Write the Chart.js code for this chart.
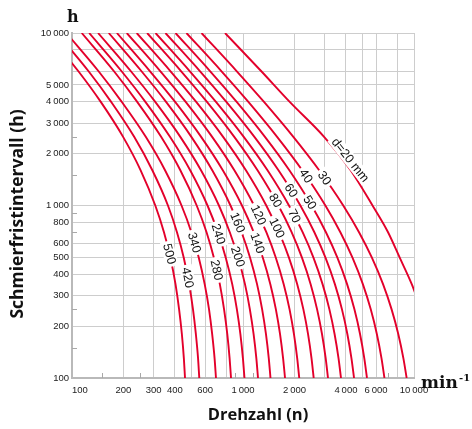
<!DOCTYPE html>
<html>
<head>
<meta charset="utf-8">
<script src="https://cdn.jsdelivr.net/npm/chart.js@4.4.1/dist/chart.umd.min.js"></script>
<style>
  html, body { margin: 0; padding: 0; background: #fff; }
  canvas { display: block; }
</style>
</head>
<body>
<canvas id="chart" width="472" height="429"></canvas>
<script>
const hours = [10000, 6000, 4000, 2500, 1600, 1000, 700, 500, 350, 250, 180, 130, 100];

// speed n (min-1) of each curve at those hours, d = bore diameter in mm
const n20  = [785, 1280, 1870, 2980, 4260, 5720, 7050, 8240, 9700, 11000];
const n30  = [572, 920, 1323, 1970, 2789, 3856, 4770, 5664, 6590, 7397, 8090, 8670, 9060];
const n40  = [467, 749, 1072, 1583, 2220, 3032, 3710, 4361, 5022, 5586, 6063, 6457, 6719];
const n50  = [403, 643, 916, 1344, 1867, 2520, 3055, 3559, 4061, 4483, 4835, 5121, 5310];
const n60  = [352, 561, 797, 1166, 1612, 2165, 2614, 3032, 3446, 3791, 4076, 4308, 4461];
const n70  = [308, 489, 693, 1010, 1391, 1857, 2232, 2579, 2919, 3201, 3432, 3620, 3742];
const n80  = [275, 435, 614, 889, 1216, 1611, 1924, 2209, 2486, 2712, 2897, 3045, 3141];
const n100 = [239, 377, 531, 765, 1040, 1368, 1623, 1854, 2075, 2255, 2400, 2516, 2591];
const n120 = [209, 329, 461, 660, 890, 1161, 1369, 1554, 1730, 1872, 1985, 2075, 2133];
const n140 = [183, 286, 400, 569, 762, 986, 1155, 1305, 1445, 1557, 1646, 1716, 1761];
const n160 = [164, 255, 354, 499, 661, 845, 981, 1099, 1208, 1294, 1362, 1415, 1448];
const n200 = [142, 221, 306, 430, 568, 723, 837, 936, 1027, 1097, 1153, 1197, 1224];
const n240 = [126, 195, 268, 374, 491, 620, 713, 792, 865, 921, 965, 999, 1020];
const n280 = [114, 176, 240, 332, 430, 536, 612, 675, 732, 775, 809, 835, 851];
const n340 = [92.7, 143, 195, 270, 350, 437, 499, 551, 597, 633, 660, 682, 695];
const n420 = [81.6, 125, 169, 231, 295, 364, 411, 450, 484, 510, 530, 546, 555];
const n500 = [71.7, 109, 147, 199, 252, 307, 345, 376, 403, 423, 439, 451, 458];

const diameters = [20, 30, 40, 50, 60, 70, 80, 100, 120, 140, 160, 200, 240, 280, 340, 420, 500];
const speedRows = [n20, n30, n40, n50, n60, n70, n80, n100, n120, n140, n160, n200, n240, n280, n340, n420, n500];
// hours where each curve label sits
const labelHours = [1764, 1443, 1483, 1041, 1222, 869, 1069, 741, 881, 606, 797, 505, 684, 423, 610, 382, 524];

const xGrid = [100, 200, 300, 400, 500, 600, 800, 1000, 2000, 3000, 4000, 5000, 6000, 8000, 10000];
const xLabels = [100, 200, 300, 400, 600, 1000, 2000, 4000, 6000, 10000];
const xMinor = [150, 250, 900, 1150, 7000];
const yGrid = [100, 200, 300, 400, 500, 600, 800, 1000, 2000, 3000, 4000, 5000, 6000, 8000, 10000];
const yLabels = [100, 200, 300, 400, 500, 600, 800, 1000, 2000, 3000, 4000, 5000, 10000];
const yMinor = [150, 250, 700, 900, 1500, 2500];

const RED = '#e3002b';
const GRID = '#cdcdcd';
const TICKFONT = { family: '"Liberation Sans", Arial, sans-serif', size: 9.5 };

function fmt(v) {
  return String(v).replace(/\B(?=(\d{3})+(?!\d))/g, '\u2009');
}

/* ========= Plugins ========= */
const minorTicks = {
  id: 'minorTicks',
  afterDraw(chart) {
    const { ctx, chartArea: a, scales: { x, y } } = chart;
    ctx.save();
    ctx.strokeStyle = '#a8a8a8';
    ctx.lineWidth = 1;
    ctx.beginPath();
    yMinor.forEach(v => {
      const py = Math.round(y.getPixelForValue(v)) + 0.5;
      ctx.moveTo(a.left, py); ctx.lineTo(a.left + 5, py);
    });
    xMinor.forEach(v => {
      const px = Math.round(x.getPixelForValue(v)) + 0.5;
      ctx.moveTo(px, a.bottom); ctx.lineTo(px, a.bottom - 5);
    });
    ctx.stroke();
    ctx.restore();
  }
};

const curveLabels = {
  id: 'curveLabels',
  afterDatasetsDraw(chart) {
    const { ctx, scales: { y } } = chart;
    ctx.save();
    ctx.font = '12.5px "Liberation Sans", Arial, sans-serif';
    ctx.textAlign = 'center';
    ctx.textBaseline = 'middle';
    diameters.forEach((d, i) => {
      const pts = chart.getDatasetMeta(i).data;
      const py = y.getPixelForValue(labelHours[i]);
      let k = 1;
      while (k < pts.length - 1 && pts[k].y < py) k++;
      const a = pts[k - 1], b = pts[k];
      const f = (py - a.y) / (b.y - a.y);
      let px = a.x + f * (b.x - a.x);
      let qy = py;
      const ang = Math.atan2(b.y - a.y, b.x - a.x);
      const text = d === 20 ? 'd=20 mm' : String(d);
      if (d === 20) { px += 5.5; qy -= 3; }
      const w = ctx.measureText(text).width + 5;
      ctx.save();
      ctx.translate(px, qy);
      ctx.rotate(ang);
      ctx.fillStyle = '#fff';
      ctx.fillRect(-w / 2, -6.5, w, 13);
      ctx.fillStyle = '#111';
      ctx.fillText(text, 0, 0.5);
      ctx.restore();
    });
    ctx.restore();
  }
};

const titles = {
  id: 'titles',
  afterDraw(chart) {
    const ctx = chart.ctx;
    ctx.save();
    ctx.fillStyle = '#111';
    ctx.textAlign = 'center';
    ctx.textBaseline = 'middle';
    ctx.font = 'bold 16.5px "Open Sans", sans-serif';
    ctx.fillText('Drehzahl (n)', 258, 415);
    ctx.save();
    ctx.translate(18, 214);
    ctx.rotate(-Math.PI / 2);
    ctx.font = 'bold 17.5px "Open Sans", sans-serif';
    ctx.fillText('Schmierfristintervall (h)', 0, 0);
    ctx.restore();

    ctx.textAlign = 'left';
    ctx.textBaseline = 'alphabetic';
    ctx.font = 'bold 16px "DejaVu Serif", serif';
    ctx.fillText('h', 67, 22);
    ctx.font = 'bold 17px "DejaVu Serif", serif';
    ctx.fillText('min', 421, 388);
    ctx.font = 'bold 10px "DejaVu Serif", serif';
    ctx.fillText('-1', 459, 381);
    ctx.restore();
  }
};

/* ========= Chart ========= */
const datasets = speedRows.map((row, i) => ({
  label: 'd=' + diameters[i],
  data: row.map((n, j) => ({ x: n, y: hours[j] })),
  borderColor: RED,
  borderWidth: 1.9,
  pointRadius: 0,
  cubicInterpolationMode: 'monotone',
  fill: false
}));

new Chart(document.getElementById('chart'), {
  type: 'line',
  data: { datasets },
  options: {
    responsive: false,
    animation: false,
    devicePixelRatio: 1,
    layout: { padding: { top: 33, right: 58, bottom: 0, left: 0 } },
    plugins: { legend: { display: false }, tooltip: { enabled: false } },
    scales: {
      x: {
        type: 'logarithmic',
        min: 100, max: 10000,
        afterBuildTicks: s => { s.ticks = xGrid.map(v => ({ value: v })); },
        afterFit: s => { s.height = 51; },
        grid: { color: GRID, lineWidth: 1, drawTicks: false },
        border: { color: '#b9b9b9', width: 2 },
        ticks: {
          autoSkip: false, maxRotation: 0, padding: 7,
          font: TICKFONT, color: '#222',
          // first label sits right of its tick in the original
          callback: v => xLabels.includes(v) ? (v === 100 ? '\u2007\u2007\u2007100' : fmt(v)) : ''
        }
      },
      y: {
        type: 'logarithmic',
        min: 100, max: 10000,
        afterBuildTicks: s => { s.ticks = yGrid.map(v => ({ value: v })); },
        afterFit: s => { s.width = 72; },
        grid: { color: GRID, lineWidth: 1, drawTicks: false },
        border: { color: '#b9b9b9', width: 2 },
        ticks: {
          autoSkip: false, padding: 3,
          font: TICKFONT, color: '#222',
          callback: v => yLabels.includes(v) ? fmt(v) : ''
        }
      }
    }
  },
  plugins: [minorTicks, curveLabels, titles]
});
</script>
</body>
</html>
